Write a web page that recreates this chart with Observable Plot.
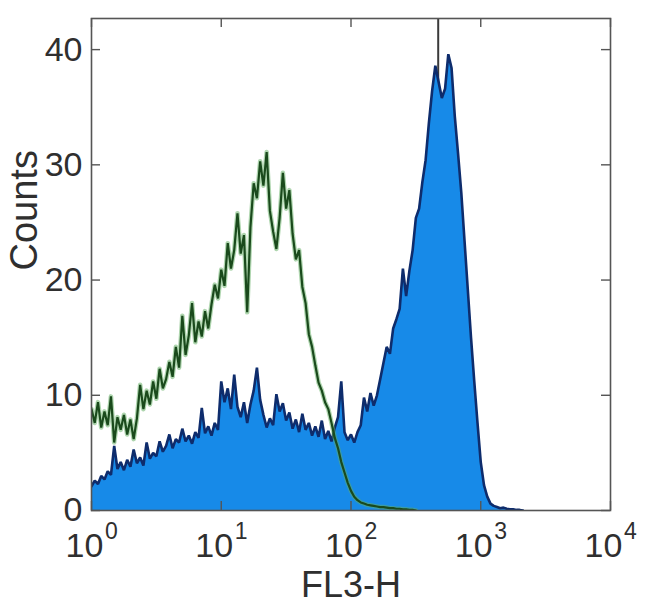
<!DOCTYPE html>
<html><head><meta charset="utf-8">
<script src="https://cdn.jsdelivr.net/npm/d3@7"></script>
<script src="https://cdn.jsdelivr.net/npm/@observablehq/plot@0.6"></script>
<style>body{margin:0;background:#fff}</style>
</head><body><div id="chart"></div>
<script>
// histogram channels: one channel every 0.025 decade of FL3-H, starting at 10^0
const channelStep = 0.025;

// stained sample (blue, filled)
const blueCounts = [
  2.1, 2.6, 2.3, 3.0, 2.7, 3.4, 3.1, 5.6, 3.6, 4.2,
  3.5, 4.4, 3.8, 5.3, 4.1, 4.6, 3.9, 5.9, 4.5, 5.0,
  4.7, 6.0, 5.1, 5.6, 6.6, 5.4, 6.2, 5.9, 7.1, 6.0,
  6.5, 5.8, 6.8, 6.3, 8.9, 6.7, 7.3, 6.5, 7.6, 7.0,
  11.2, 9.4, 10.6, 8.8, 11.8, 9.0, 8.1, 9.4, 7.6, 9.2,
  10.4, 12.4, 9.6, 8.3, 7.2, 8.0, 7.4, 10.1, 8.6, 9.3,
  7.8, 8.5, 7.1, 7.9, 6.8, 8.4, 7.0, 7.6, 6.5, 7.3,
  6.4, 7.8, 6.2, 6.9, 6.0, 7.2, 8.1, 11.2, 6.8, 6.1,
  6.6, 5.9, 6.8, 7.4, 9.8, 8.6, 10.2, 9.1, 10.0, 11.4,
  12.8, 14.2, 13.6, 15.8, 16.6, 17.5, 21.0, 18.6, 20.8, 22.6,
  25.4, 26.2, 28.5, 30.4, 33.6, 36.4, 38.6, 37.2, 35.8, 36.6,
  39.6, 38.4, 34.2, 31.0, 27.6, 23.4, 19.2, 15.0, 11.2, 7.6,
  4.2, 2.2, 1.2, 0.6, 0.4, 0.3, 0.2, 0.25, 0.15, 0.1,
  0.1, 0.05, 0.05, 0.0
];

// control sample (green outline)
const greenCounts = [
  8.8, 7.6, 9.4, 7.2, 8.6, 7.4, 9.9, 5.9, 8.1, 7.0,
  8.3, 6.6, 7.9, 6.2, 8.0, 10.9, 8.8, 10.4, 9.2, 11.2,
  9.7, 12.3, 10.6, 11.4, 12.9, 11.6, 14.2, 12.4, 16.9, 13.5,
  15.2, 18.0, 14.6, 16.4, 15.1, 17.3, 15.8, 17.9, 19.6, 18.4,
  20.9, 19.5, 23.2, 21.0, 22.6, 25.8, 22.3, 23.9, 17.2, 24.6,
  28.4, 27.1, 30.3, 28.2, 31.1, 26.0, 24.2, 22.7, 25.4, 29.3,
  26.2, 27.8, 24.0, 21.8, 22.6, 19.4, 18.0, 15.3, 14.2, 12.6,
  11.1, 10.4, 9.4, 8.8, 7.6, 6.3, 5.4, 4.2, 3.3, 2.4,
  1.7, 1.2, 0.9, 0.7, 0.6, 0.5, 0.45, 0.4, 0.35, 0.3,
  0.3, 0.25, 0.2, 0.2, 0.15, 0.15, 0.1, 0.1, 0.05, 0.05,
  0.0
];

const markerFL = [470];              // vertical marker line
const xTickValues = [1, 10, 100, 1000, 10000];
const xTickBase = ["10", "10", "10", "10", "10"];
const xTickExponents = ["0", "1", "2", "3", "4"];
const yTickValues = [0, 10, 20, 30, 40];
const xLabel = "FL3-H";
const yLabel = "Counts";

const toRows = counts => counts.map((c, i) => ({fl: Math.pow(10, i * channelStep), count: c}));
const blue = toRows(blueCounts);
const green = toRows(greenCounts);

const W = 650, H = 616, mL = 91, mR = 40, mT = 18, mB = 106;
const innerW = W - mL - mR, innerH = H - mT - mB;
const tick = 9;
const axisColor = "#555";
const textColor = "#2f2f2f";

const chart = Plot.plot({
  width: W, height: H,
  marginLeft: mL, marginRight: mR, marginTop: mT, marginBottom: mB,
  x: {type: "log", domain: [1, 10000], axis: null},
  y: {domain: [0, 42.7], axis: null},
  style: {fontFamily: "'Liberation Sans', Arial, sans-serif", background: "#fff", color: textColor},
  marks: [
    Plot.ruleX(markerFL, {x: d => d, stroke: "#3a3a3a", strokeWidth: 2}),
    Plot.areaY(blue, {x: "fl", y: "count", fill: "#178ae8", clip: true}),
    Plot.lineY(blue, {x: "fl", y: "count", stroke: "#0e2c6c", strokeWidth: 2.6, strokeLinejoin: "miter", clip: true}),
    Plot.lineY(green, {x: "fl", y: "count", stroke: "#5fae5f", strokeWidth: 4.6, strokeOpacity: 0.5, clip: true}),
    Plot.lineY(green, {x: "fl", y: "count", stroke: "#1a4a1c", strokeWidth: 2.2, strokeLinejoin: "miter", clip: true}),
    Plot.frame({stroke: axisColor, strokeWidth: 1.6}),
    // inward ticks on all four sides
    Plot.ruleX(xTickValues, {x: d => d, insetTop: innerH - tick, stroke: axisColor, strokeWidth: 1.4}),
    Plot.ruleX(xTickValues, {x: d => d, insetBottom: innerH - tick, stroke: axisColor, strokeWidth: 1.4}),
    Plot.ruleY(yTickValues, {y: d => d, insetRight: innerW - tick, stroke: axisColor, strokeWidth: 1.4}),
    Plot.ruleY(yTickValues, {y: d => d, insetLeft: innerW - tick, stroke: axisColor, strokeWidth: 1.4}),
    // y tick labels
    Plot.axisY({ticks: yTickValues, tickSize: 0, tickPadding: 9, fontSize: 34, label: null, tickFormat: d => String(d)}),
    // x tick labels as 10 with superscript exponents
    Plot.text(xTickValues, {x: d => d, frameAnchor: "bottom", text: (d, i) => xTickBase[i], dx: -7, dy: 46, fontSize: 34, fill: textColor}),
    Plot.text(xTickValues, {x: d => d, frameAnchor: "bottom", text: (d, i) => xTickExponents[i], dx: 20, dy: 28, fontSize: 23, fill: textColor}),
    // axis titles
    Plot.text([xLabel], {frameAnchor: "bottom", dy: 86, fontSize: 36, fill: textColor}),
    Plot.text([yLabel], {frameAnchor: "left", rotate: -90, dx: -67, dy: 6, fontSize: 38, fill: textColor})
  ]
});
document.getElementById("chart").appendChild(chart);
</script>
</body></html>
